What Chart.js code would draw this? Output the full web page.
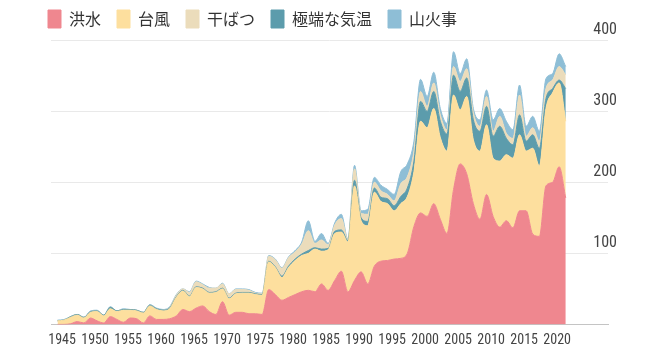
<!DOCTYPE html>
<html lang="ja">
<head>
<meta charset="utf-8">
<script src="https://cdn.jsdelivr.net/npm/chart.js@4.4.1/dist/chart.umd.min.js"></script>
<style>
  html, body { margin: 0; padding: 0; background: #fff; }
  #wrap { width: 665px; height: 352px; }
</style>
</head>
<body>
<div id="wrap"><canvas id="chart" width="665" height="352"></canvas></div>
<script>
// years on the x axis, one value per year in every series
const years = [
  1945, 1946, 1947, 1948, 1949, 1950, 1951, 1952, 1953, 1954,
  1955, 1956, 1957, 1958, 1959, 1960, 1961, 1962, 1963, 1964,
  1965, 1966, 1967, 1968, 1969, 1970, 1971, 1972, 1973, 1974,
  1975, 1976, 1977, 1978, 1979, 1980, 1981, 1982, 1983, 1984,
  1985, 1986, 1987, 1988, 1989, 1990, 1991, 1992, 1993, 1994,
  1995, 1996, 1997, 1998, 1999, 2000, 2001, 2002, 2003, 2004,
  2005, 2006, 2007, 2008, 2009, 2010, 2011, 2012, 2013, 2014,
  2015, 2016, 2017, 2018, 2019, 2020, 2021, 2022,
];

const flood = [
  0, 0, 1, 4, 2, 9, 5, 2, 11, 7,
  3, 9, 8, 2, 12, 7, 7, 8, 12, 21,
  18, 23, 26, 18, 14, 32, 13, 17, 17, 15,
  15, 14, 49, 42, 34, 38, 42, 46, 48, 46,
  57, 48, 62, 75, 46, 62, 74, 57, 82, 89,
  90, 92, 93, 100, 138, 157, 152, 170, 148, 128,
  190, 226, 212, 170, 148, 183, 152, 137, 146, 136,
  160, 160, 127, 124, 195, 200, 222, 178,
];

const typhoon = [
  5, 6, 9, 9, 7, 8, 13, 10, 11, 11,
  17, 11, 11, 14, 14, 14, 12, 14, 26, 26,
  21, 29, 24, 26, 31, 18, 23, 26, 27, 29,
  27, 27, 39, 38, 32, 42, 48, 51, 52, 60,
  46, 57, 66, 55, 70, 133, 72, 82, 104, 84,
  80, 68, 77, 80, 77, 129, 125, 134, 115, 116,
  133, 76, 109, 90, 96, 98, 82, 93, 93, 98,
  107, 84, 121, 99, 109, 126, 118, 108,
];

const drought = [
  0, 0, 0, 0, 0, 0, 0, 0, 0, 0,
  0, 0, 0, 0, 0, 0, 0, 1, 2, 2,
  5, 7, 5, 6, 5, 6, 6, 5, 4, 3,
  1, 1, 7, 10, 11, 12, 10, 14, 28, 6,
  13, 5, 9, 16, 1, 16, 6, 10, 8, 9,
  6, 7, 18, 16, 14, 14, 7, 12, 9, 6,
  12, 14, 13, 10, 7, 14, 7, 14, 7, 9,
  28, 7, 10, 10, 14, 12, 19, 19,
];

const extremeTemp = [
  0, 0, 1, 1, 1, 1, 1, 1, 2, 1,
  1, 1, 1, 1, 1, 1, 1, 1, 1, 1,
  1, 1, 1, 1, 1, 1, 1, 1, 1, 1,
  1, 1, 1, 1, 2, 2, 2, 2, 4, 2,
  3, 2, 3, 3, 2, 8, 4, 6, 6, 6,
  7, 7, 10, 12, 15, 28, 23, 24, 23, 24,
  28, 26, 26, 28, 28, 26, 31, 49, 23, 19,
  28, 14, 19, 25, 14, 6, 4, 46,
];

const wildfire = [
  1, 1, 0, 0, 0, 1, 1, 0, 1, 0,
  1, 0, 0, 0, 1, 1, 1, 1, 1, 0,
  1, 1, 1, 1, 0, 1, 0, 1, 1, 1,
  1, 1, 1, 1, 1, 1, 2, 3, 14, 3,
  9, 2, 3, 6, 1, 5, 4, 7, 7, 8,
  7, 9, 17, 18, 14, 17, 14, 15, 9, 9,
  21, 11, 14, 6, 9, 9, 16, 11, 17, 12,
  14, 14, 16, 14, 14, 9, 18, 12,
];

const xTickYears = [1945, 1950, 1955, 1960, 1965, 1970, 1975, 1980, 1985, 1990, 1995, 2000, 2005, 2010, 2015, 2020];
const yTickValues = [100, 200, 300, 400];

// legend reads in this order, the stack is drawn bottom-up in another
const legendOrder = ['洪水', '台風', '干ばつ', '極端な気温', '山火事'];

const stackLayers = [
  { label: '洪水', values: flood, color: '#ef878f' },
  { label: '台風', values: typhoon, color: '#fddf9e' },
  { label: '極端な気温', values: extremeTemp, color: '#5c9cac' },
  { label: '干ばつ', values: drought, color: '#ebdcbb' },
  { label: '山火事', values: wildfire, color: '#8ebed6' },
];

// the original uses narrow digits; take a condensed face if one is there
const narrowFamily = "'Roboto Condensed', Roboto, sans-serif";

const ctx = document.getElementById('chart').getContext('2d');
const chart = new Chart(ctx, {
  type: 'line',
  data: {
    labels: years,
    datasets: stackLayers.map((s, i) => ({
      label: s.label,
      data: s.values,
      backgroundColor: s.color,
      borderColor: s.color,
      borderWidth: 1,
      pointRadius: 0,
      fill: i === 0 ? 'origin' : '-1',
      cubicInterpolationMode: 'monotone',
    })),
  },
  options: {
    responsive: false,
    animation: false,
    layout: { padding: { top: -6, right: 57, bottom: -5.2, left: 32 } },
    plugins: {
      legend: {
        position: 'top',
        align: 'start',
        weight: 3000,
        labels: {
          boxWidth: 13,
          boxHeight: 18,
          padding: 16,
          color: '#333',
          font: { family: "'Noto Sans CJK JP', sans-serif", size: 16 },
          sort: (a, b) => legendOrder.indexOf(a.text) - legendOrder.indexOf(b.text),
        },
      },
      // empty line between legend and plot
      subtitle: {
        display: true,
        text: '',
        weight: 10,
        padding: 0,
        font: { size: 1, lineHeight: '2.3px' },
      },
      tooltip: { enabled: false },
    },
    scales: {
      x: {
        type: 'linear',
        min: 1944.015,
        max: 2028.4,
        grid: { display: false, drawTicks: false },
        border: { display: true, color: '#c4c4c4', width: 1 },
        afterBuildTicks: (scale) => { scale.ticks = xTickYears.map(v => ({ value: v })); },
        ticks: {
          autoSkip: false,
          maxRotation: 0,
          labelOffset: 4.6,
          padding: 8,
          color: '#444',
          font: { family: narrowFamily, size: 14, weight: 'normal condensed' },
          callback: (v) => String(v),
        },
      },
      y: {
        stacked: true,
        position: 'right',
        min: 0,
        max: 400,
        afterBuildTicks: (scale) => { scale.ticks = [0].concat(yTickValues).map(v => ({ value: v })); },
        afterFit: (scale) => { scale.width = 0; },
        grid: { color: '#e9e9e9', lineWidth: 1, drawTicks: false },
        border: { display: false },
        ticks: {
          mirror: true,
          padding: 9,
          labelOffset: -10,
          color: '#444',
          font: { family: narrowFamily, size: 16, weight: 'normal condensed' },
          callback: (v) => (v === 0 ? '' : String(v)),
        },
      },
      // empty axis only to push the plot area right of the legend start
      spacer: {
        type: 'linear',
        position: 'left',
        grid: { display: false, drawTicks: false },
        border: { display: false },
        ticks: { display: false },
        afterFit: (scale) => { scale.width = 19; },
      },
    },
  },
});
</script>
</body>
</html>
